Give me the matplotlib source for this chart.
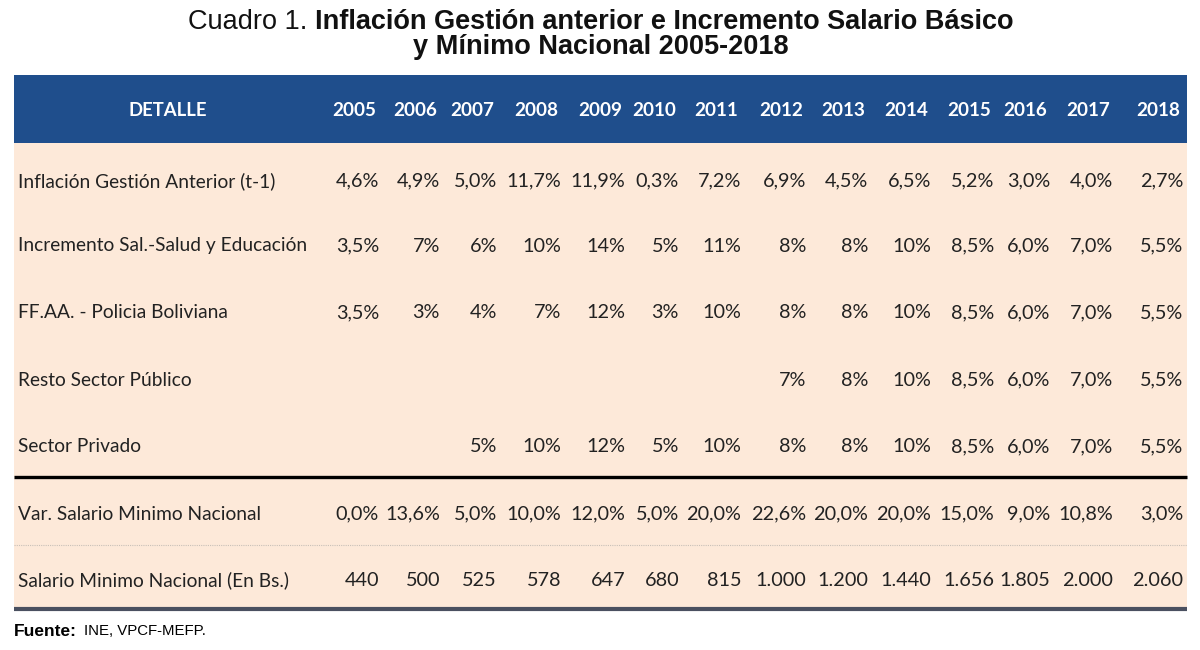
import matplotlib.pyplot as plt
from matplotlib.patches import Rectangle

# ---------------- data ----------------
years = ["2005", "2006", "2007", "2008", "2009", "2010", "2011",
         "2012", "2013", "2014", "2015", "2016", "2017", "2018"]

row_labels = [
    "Inflación Gestión Anterior (t-1)",
    "Incremento Sal.-Salud y Educación",
    "FF.AA. - Policia Boliviana",
    "Resto Sector Público",
    "Sector Privado",
    "Var. Salario Minimo Nacional",
    "Salario Minimo Nacional (En Bs.)",
]

inflacion = ["4,6%", "4,9%", "5,0%", "11,7%", "11,9%", "0,3%", "7,2%",
             "6,9%", "4,5%", "6,5%", "5,2%", "3,0%", "4,0%", "2,7%"]
salud_educ = ["3,5%", "7%", "6%", "10%", "14%", "5%", "11%",
              "8%", "8%", "10%", "8,5%", "6,0%", "7,0%", "5,5%"]
ffaa_policia = ["3,5%", "3%", "4%", "7%", "12%", "3%", "10%",
                "8%", "8%", "10%", "8,5%", "6,0%", "7,0%", "5,5%"]
resto_publico = ["", "", "", "", "", "", "",
                 "7%", "8%", "10%", "8,5%", "6,0%", "7,0%", "5,5%"]
sector_privado = ["", "", "5%", "10%", "12%", "5%", "10%",
                  "8%", "8%", "10%", "8,5%", "6,0%", "7,0%", "5,5%"]
var_smn = ["0,0%", "13,6%", "5,0%", "10,0%", "12,0%", "5,0%", "20,0%",
           "22,6%", "20,0%", "20,0%", "15,0%", "9,0%", "10,8%", "3,0%"]
smn_bs = ["440", "500", "525", "578", "647", "680", "815",
          "1.000", "1.200", "1.440", "1.656", "1.805", "2.000", "2.060"]

rows = [inflacion, salud_educ, ffaa_policia, resto_publico,
        sector_privado, var_smn, smn_bs]

# ---------------- layout (pixel space) ----------------
col_right = [379, 440, 497, 561, 625, 679, 741, 806, 868, 931, 994, 1050, 1113, 1183]
row_y = [181, 246, 313, 380, 447, 514, 580]

BLUE = "#1f4e8c"
PEACH = "#fde9d9"
BODY_FONT = ["Lato", "DejaVu Sans"]
TITLE_FONT = "Liberation Sans"

fig = plt.figure(figsize=(12, 6.5), dpi=100)
ax = fig.add_axes([0, 0, 1, 1])
ax.set_xlim(0, 1200)
ax.set_ylim(650, 0)
ax.axis("off")

# title (normal prefix + bold rest on the first line)
t1 = ax.text(188, 22, "Cuadro 1. ", ha="left", va="center",
             fontsize=19.5, family=TITLE_FONT, color="#111111")
fig.canvas.draw()
x_after = t1.get_window_extent().x1
ax.annotate("Inflación Gestión anterior e Incremento Salario Básico",
            xy=(x_after, 650 - 22), xycoords="figure pixels",
            ha="left", va="center", fontsize=19.5, fontweight="bold",
            family=TITLE_FONT, color="#111111")
ax.text(601, 47, "y Mínimo Nacional 2005-2018", ha="center", va="center",
        fontsize=19.5, fontweight="bold", family=TITLE_FONT, color="#111111")

# backgrounds
ax.add_patch(Rectangle((14, 75), 1173, 68, facecolor=BLUE, edgecolor="none"))
ax.add_patch(Rectangle((14, 143), 1173, 466, facecolor=PEACH, edgecolor="none"))

# header
ax.text(168, 110, "DETALLE", ha="center", va="center", fontsize=13.3,
        fontweight="bold", color="white", family=BODY_FONT)
for x, yr in zip(col_right, years):
    ax.text(x - 3, 110, yr, ha="right", va="center", fontsize=13.6,
            fontweight="bold", color="white", family=BODY_FONT)

# body
for y, lab, vals in zip(row_y, row_labels, rows):
    ax.text(18, y, lab, ha="left", va="center", fontsize=13.8,
            color="#222222", family=BODY_FONT)
    for x, v in zip(col_right, vals):
        if v:
            ax.text(x, y, v, ha="right", va="center", fontsize=14.3,
                    color="#222222", family=BODY_FONT)

# separators
ax.plot([14, 1187], [477, 477], color="black", lw=2.4, solid_capstyle="butt")
ax.plot([14, 1187], [545, 545], color="#c8c0b8", lw=0.8, ls=(0, (1, 1)))
ax.plot([14, 1187], [609, 609], color="#4a5060", lw=3, solid_capstyle="butt")

# source
ax.text(14, 631, "Fuente:", ha="left", va="center", fontsize=12.5,
        fontweight="bold", family=TITLE_FONT)
ax.text(84, 631, "INE, VPCF-MEFP.", ha="left", va="center", fontsize=10.8,
        family=TITLE_FONT)

fig.savefig("out.png", dpi=100)
